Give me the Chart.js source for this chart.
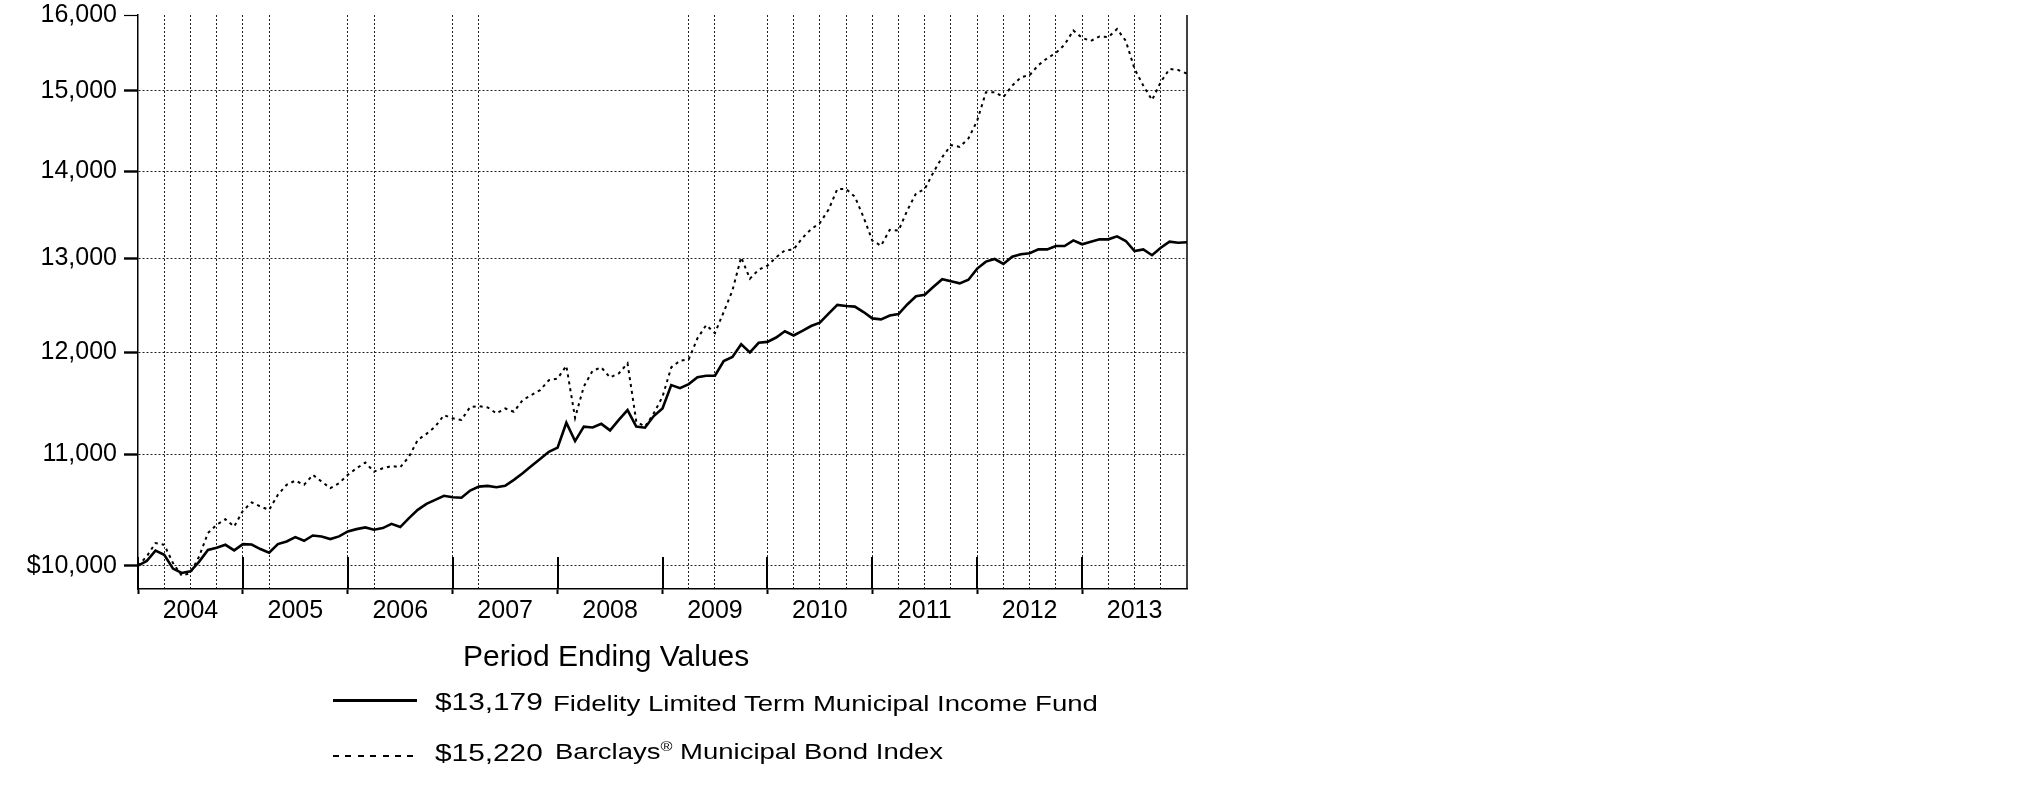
<!DOCTYPE html>
<html>
<head>
<meta charset="utf-8">
<script src="https://cdn.jsdelivr.net/npm/chart.js@4.4.1/dist/chart.umd.min.js"></script>
<style>
  html, body { margin: 0; padding: 0; background: #fff; }
  body { width: 2025px; height: 806px; position: relative; overflow: hidden;
         font-family: "Liberation Sans", Arial, sans-serif; color: #000; }
  #wrap { position: absolute; left: 0; top: 0; width: 2025px; height: 806px; }
  .lg { position: absolute; white-space: nowrap; line-height: 1; transform-origin: 0 0; }
  .sw { position: absolute; }
</style>
</head>
<body>
<div id="wrap"><canvas id="growth" width="2025" height="806"></canvas></div>

<div class="lg" style="left:463px; top:640.5px; font-size:30px;">Period Ending Values</div>

<div class="sw" style="left:333px; top:698.5px; width:84px; height:3px; background:#000;"></div>
<div class="lg" style="left:435px; top:689.8px; font-size:24.5px; transform:scaleX(1.217);">$13,179</div>
<div class="lg" style="left:553px; top:693.1px; font-size:22px; transform:scaleX(1.253);">Fidelity Limited Term Municipal Income Fund</div>

<div class="sw" style="left:333px; top:755px; width:84px; height:2px; background:repeating-linear-gradient(to right, #000 0 6px, transparent 6px 12.4px);"></div>
<div class="lg" style="left:435px; top:741.3px; font-size:24.5px; transform:scaleX(1.217);">$15,220</div>
<div class="lg" style="left:555px; top:741.4px; font-size:22px; transform:scaleX(1.25);">Barclays<span style="font-size:13px; position:relative; top:-8px;">®</span> Municipal Bond Index</div>

<script>
// growth of $10,000, monthly from Dec 2003 (index 0) to Dec 2013 (index 120)
const YEARS = ["2004", "2005", "2006", "2007", "2008", "2009", "2010", "2011", "2012", "2013"];
const Y_TICKS = [10000, 11000, 12000, 13000, 14000, 15000, 16000];
const Y_TICK_LABELS = ["$10,000", "11,000", "12,000", "13,000", "14,000", "15,000", "16,000"];

const FUND = [
  10000, 10040, 10130, 10094, 9975, 9938, 9952, 10035, 10135, 10155, 10180, 10132,
  10186, 10182, 10143, 10112, 10186, 10209, 10247, 10215, 10261, 10253, 10230, 10253,
  10297, 10317, 10332, 10312, 10326, 10364, 10335, 10414, 10488, 10542, 10578, 10615,
  10602, 10597, 10662, 10698, 10705, 10693, 10705, 10760, 10821, 10888, 10953, 11021,
  11060, 11298, 11122, 11260, 11252, 11287, 11224, 11325, 11420, 11260, 11250, 11362,
  11436, 11666, 11636, 11676, 11744, 11760, 11760, 11909, 11950, 12080, 11997, 12095,
  12105, 12150, 12215, 12171, 12218, 12270, 12305, 12400, 12493, 12482, 12475, 12417,
  12350, 12340, 12380, 12395, 12498, 12585, 12602, 12687, 12770, 12748, 12725, 12764,
  12886, 12963, 12992, 12937, 13018, 13045, 13056, 13099, 13099, 13137, 13137, 13200,
  13156, 13186, 13212, 13212, 13246, 13193, 13080, 13099, 13034, 13118, 13186, 13174,
  13179
];

const INDEX = [
  10000, 10080, 10195, 10180, 10023, 9915, 9938, 10080, 10282, 10355, 10405, 10340,
  10480, 10555, 10518, 10488, 10624, 10715, 10753, 10715, 10806, 10744, 10684, 10730,
  10806, 10867, 10920, 10836, 10867, 10888, 10876, 10975, 11133, 11191, 11260, 11371,
  11340, 11325, 11451, 11458, 11446, 11388, 11436, 11404, 11518, 11567, 11616, 11715,
  11732, 11860, 11345, 11652, 11809, 11844, 11743, 11783, 11885, 11310, 11260, 11388,
  11551, 11844, 11912, 11926, 12142, 12280, 12196, 12417, 12648, 13011, 12776, 12874,
  12918, 13011, 13088, 13099, 13227, 13327, 13397, 13552, 13791, 13791, 13702, 13465,
  13199, 13140, 13320, 13310, 13542, 13740, 13791, 13992, 14172, 14317, 14297, 14400,
  14620, 14980, 14980, 14917, 15064, 15171, 15200, 15330, 15420, 15490, 15600, 15790,
  15690, 15650, 15710, 15700, 15810, 15650, 15280, 15064, 14880, 15110, 15280, 15265,
  15220
];

// months (since Dec 2003) that carry a dotted vertical grid line in the original
const X_GRID_MONTHS = [3, 6, 9, 12, 15, 24, 27, 36, 39, 63, 66, 72, 75, 78, 81, 84, 87, 90, 93, 96, 99, 102, 105, 108, 111, 114, 117];

const FONT = { family: "'Liberation Sans', Arial, sans-serif", size: 25 };

// year boundary ticks inside the plot + right frame line
const framePlugin = {
    id: "frame",
    beforeDatasetsDraw(chart) {
        const { ctx, chartArea: a, scales: { x } } = chart;
        ctx.save();
        ctx.strokeStyle = "#000";
        ctx.lineWidth = 2;
        for (let m = 0; m < 120; m += 12) {
            const px = Math.round(x.getPixelForValue(m));
            ctx.beginPath();
            ctx.moveTo(px, a.bottom - 32);
            ctx.lineTo(px, a.bottom);
            ctx.stroke();
        }
        ctx.lineWidth = 1.5;
        ctx.beginPath();
        ctx.moveTo(a.right, a.top);
        ctx.lineTo(a.right, a.bottom);
        ctx.stroke();
        ctx.restore();
    }
};

const toXY = (arr) => arr.map((v, i) => ({ x: i, y: v }));

new Chart(document.getElementById("growth").getContext("2d"), {
    type: "line",
    data: {
        datasets: [
            { label: "Fidelity Limited Term Municipal Income Fund", data: toXY(FUND),
              borderColor: "#000", borderWidth: 2.6, pointRadius: 0, tension: 0 },
            { label: "Barclays Municipal Bond Index", data: toXY(INDEX),
              borderColor: "#000", borderWidth: 2, borderDash: [3, 4], pointRadius: 0, tension: 0 }
        ]
    },
    options: {
        responsive: false,
        animation: false,
        events: [],
        layout: { padding: { left: 0, top: 15, right: 838, bottom: 0 } },
        plugins: { legend: { display: false }, tooltip: { enabled: false } },
        scales: {
            x: {
                type: "linear", min: 0, max: 120,
                afterBuildTicks(s) {
                    const t = [];
                    for (let m = 0; m <= 120; m += 3) t.push({ value: m });
                    s.ticks = t;
                },
                afterFit(s) { s.height = 217; s.paddingLeft = 0; s.paddingRight = 0; },
                ticks: {
                    autoSkip: false, maxRotation: 0, minRotation: 0, padding: 2,
                    color: "#000", font: FONT,
                    callback: (v) => (v % 12 === 6 ? YEARS[(v - 6) / 12] : "")
                },
                grid: {
                    color: (c) => (c.tick && X_GRID_MONTHS.includes(c.tick.value) ? "#222" : "transparent"),
                    lineWidth: 1,
                    tickLength: 5, tickWidth: 2,
                    tickColor: (c) => (c.tick && c.tick.value % 12 === 0 && c.tick.value < 120 ? "#000" : "transparent")
                },
                border: { display: true, color: "#000", width: 1.5, dash: [2, 2] }
            },
            y: {
                type: "logarithmic", min: 9803, max: 16000,
                afterBuildTicks(s) { s.ticks = Y_TICKS.map((v) => ({ value: v })); },
                afterFit(s) { s.width = 138; s.paddingTop = 0; s.paddingBottom = 0; },
                ticks: {
                    padding: 7, color: "#000", font: FONT,
                    callback: (v) => { const i = Y_TICKS.indexOf(v); return i >= 0 ? Y_TICK_LABELS[i] : ""; }
                },
                grid: {
                    color: (c) => (c.tick && c.tick.value === 16000 ? "transparent" : "#222"),
                    lineWidth: 1,
                    tickLength: 14,
                    tickWidth: (c) => (c.tick && c.tick.value === 16000 ? 1.2 : 2.4),
                    tickColor: "#000"
                },
                border: { display: true, color: "#000", width: 1.5, dash: [2, 2] }
            }
        }
    },
    plugins: [framePlugin]
});
</script>
</body>
</html>
